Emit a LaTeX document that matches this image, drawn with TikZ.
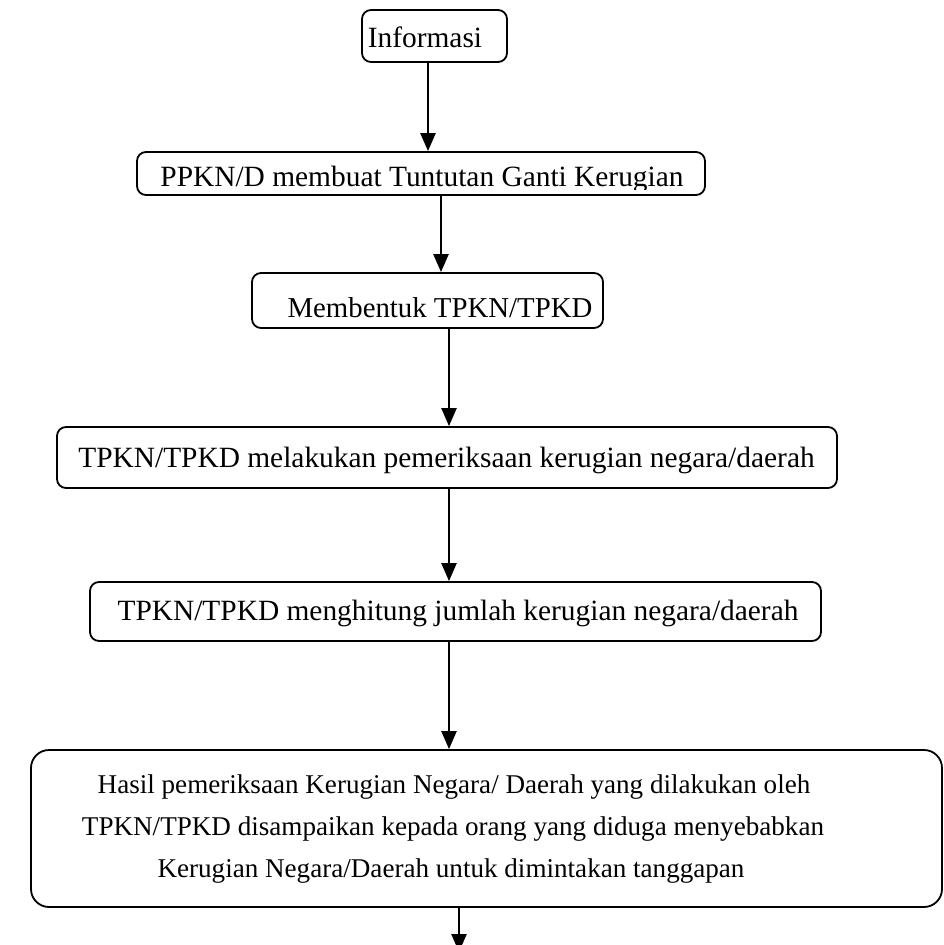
\documentclass[tikz,border=0pt]{standalone}
\usepackage{fontspec}
\setmainfont{Liberation Serif}
\usetikzlibrary{arrows.meta}
\begin{document}
\begin{tikzpicture}[x=1pt,y=-1pt,
  box/.style={draw, line width=1.8pt, rounded corners=9pt, inner sep=0pt},
  bigbox/.style={box, rounded corners=18pt},
  lbl/.style={anchor=base, inner sep=0pt, font=\fontsize{29.4}{34}\selectfont},
  lblsmall/.style={lbl, font=\fontsize{27.1}{34}\selectfont},
  arr/.style={line width=2.4pt, -{Triangle[length=18pt,width=15pt]}}]
\useasboundingbox (0,0) rectangle (943,945);
% boxes
\node[box, minimum width=145pt, minimum height=52pt] (b1) at (434.5,36) {};
\node[box, minimum width=568pt, minimum height=43pt] (b2) at (421,173.5) {};
\node[box, minimum width=351pt, minimum height=55pt] (b3) at (427.5,300.5) {};
\node[box, minimum width=780pt, minimum height=61pt] (b4) at (447,457.5) {};
\node[box, minimum width=731pt, minimum height=59pt] (b5) at (455.5,611.5) {};
\node[bigbox, minimum width=911pt, minimum height=157pt] (b6) at (486.5,828.5) {};
% texts
\node[lbl] (t1) at (425,47) {Informasi};
\begin{scope}
\clip (140,150) rectangle (700,189);
\node[lbl] (t2) at (422,186) {PPKN/D membuat Tuntutan Ganti Kerugian};
\end{scope}
\node[lbl, font=\fontsize{28.8}{34}\selectfont] (t3) at (440,317) {Membentuk TPKN/TPKD};
\node[lbl] (t4) at (446.5,467) {TPKN/TPKD melakukan pemeriksaan kerugian negara/daerah};
\node[lbl] (t5) at (458,620) {TPKN/TPKD menghitung jumlah kerugian negara/daerah};
\node[lblsmall] (t6a) at (454,793) {Hasil pemeriksaan Kerugian Negara/ Daerah yang dilakukan oleh};
\node[lblsmall] (t6b) at (453,835) {TPKN/TPKD disampaikan kepada orang yang diduga menyebabkan};
\node[lblsmall] (t6c) at (451,877) {Kerugian Negara/Daerah untuk dimintakan tanggapan};
% arrows
\coordinate (x1) at (428,0);
\coordinate (x2) at (441,0);
\coordinate (x3) at (449,0);
\coordinate (e6) at (459,952);
\draw[arr] (b1.south -| x1) -- (b2.north -| x1);
\draw[arr] (b2.south -| x2) -- (b3.north -| x2);
\draw[arr] (b3.south -| x3) -- (b4.north -| x3);
\draw[arr] (b4.south -| x3) -- (b5.north -| x3);
\draw[arr] (b5.south -| x3) -- (b6.north -| x3);
\draw[arr] (b6.south -| e6) -- (e6);
\end{tikzpicture}
\end{document}
